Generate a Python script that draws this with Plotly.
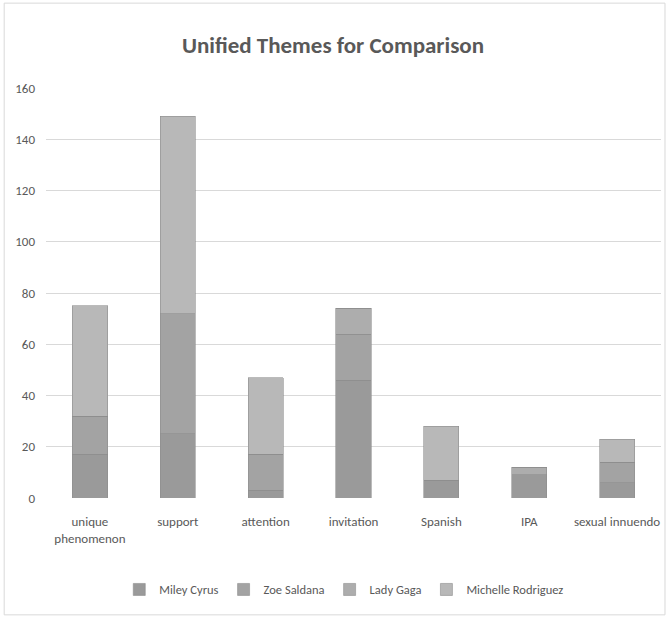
import plotly.graph_objects as go

categories = ["unique<br>phenomenon", "support", "attention", "invitation", "Spanish", "IPA", "sexual innuendo"]
series_names = ["Miley Cyrus", "Zoe Saldana", "Lady Gaga", "Michelle Rodriguez"]
miley = [17, 25, 3, 46, 7, 9, 6]
zoe = [15, 47, 14, 18, 0, 0, 8]
gaga = [0, 0, 0, 10, 0, 3, 0]
michelle = [43, 77, 30, 0, 21, 0, 9]
y_ticks = [0, 20, 40, 60, 80, 100, 120, 140, 160]

colors = ["#9a9a9a", "#a3a3a3", "#adadad", "#b8b8b8"]
values = [miley, zoe, gaga, michelle]

FONT = "Carlito, Calibri, Lato, sans-serif"

fig = go.Figure()
for name, vals, col in zip(series_names, values, colors):
    fig.add_trace(go.Bar(
        x=categories, y=vals, name=name,
        marker=dict(color=col, line=dict(color="#8e8e8e", width=0.6)),
    ))

fig.update_layout(
    barmode="stack",
    bargap=0.6,
    width=666, height=618,
    margin=dict(l=46, r=5, t=88, b=120),
    paper_bgcolor="white",
    plot_bgcolor="white",
    font=dict(family=FONT, color="#595959", size=13),
    title=dict(text="Unified Themes for Comparison", x=0.5, xanchor="center",
               y=0.927, yanchor="middle",
               font=dict(family=FONT, size=23, color="#595959", weight=600)),
    xaxis=dict(showgrid=False, showline=False, ticks="", tickfont=dict(size=13),
               tickangle=0, ticklabelstandoff=14),
    yaxis=dict(range=[0, 160], tickvals=y_ticks, showgrid=True, gridcolor="#d9d9d9",
               gridwidth=1, zeroline=False, showline=False, ticks="",
               tickfont=dict(size=13), ticklabelstandoff=10),
    legend=dict(orientation="h", x=0.485, xanchor="center", y=-0.224, yanchor="middle",
                font=dict(size=12.5, color="#595959"), traceorder="normal",
                itemwidth=30),
    showlegend=True,
    shapes=[dict(type="rect", xref="paper", yref="paper",
                 x0=-0.068, x1=1.0065, y0=-0.285, y1=1.207,
                 line=dict(color="#d9d9d9", width=1), fillcolor="rgba(0,0,0,0)", layer="below")],
)

fig.write_html("out.html")
